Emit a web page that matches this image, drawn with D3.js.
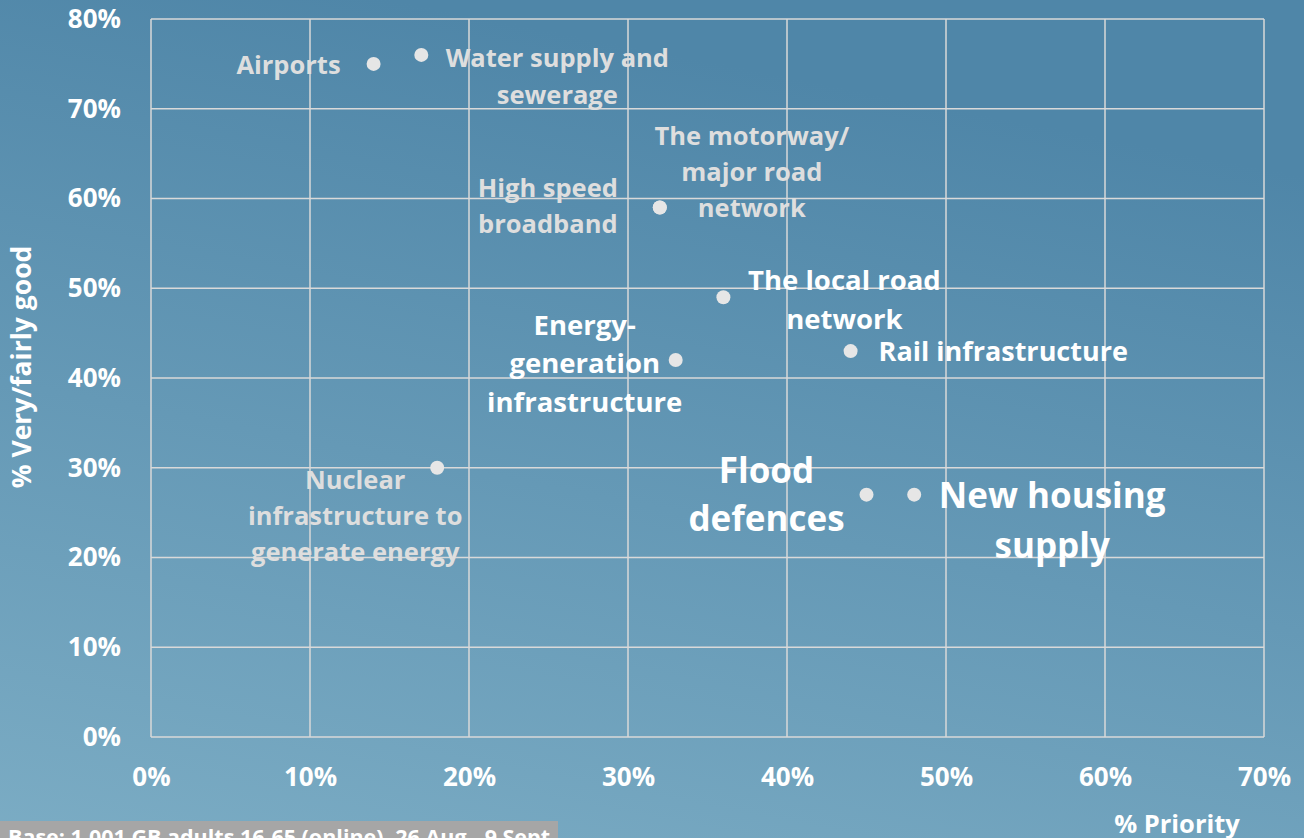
<!DOCTYPE html>
<html>
<head>
<meta charset="utf-8">
<script src="https://cdn.jsdelivr.net/npm/d3@7"></script>
<style>
  html, body { margin: 0; padding: 0; overflow: hidden; }
  svg { display: block; font-family: "Open Sans", "Noto Sans", sans-serif; font-weight: 700; }
</style>
</head>
<body>
<svg id="chart"></svg>
<script>
const width = 1304, height = 838

// data
const names = ['Airports', 'Water supply and sewerage', 'The motorway/ major road network', 'High speed broadband',
  'The local road network', 'Energy-generation infrastructure', 'Rail infrastructure',
  'Nuclear infrastructure to generate energy', 'Flood defences', 'New housing supply']
const priority = [14, 17, 32, 32, 36, 33, 44, 18, 45, 48]
const good = [75, 76, 59, 59, 49, 42, 43, 30, 27, 27]
const labelLines = [['Airports'], ['Water supply and', 'sewerage'], ['The motorway/', 'major road', 'network'],
  ['High speed', 'broadband'], ['The local road', 'network'], ['Energy-', 'generation', 'infrastructure'],
  ['Rail infrastructure'], ['Nuclear', 'infrastructure to', 'generate energy'], ['Flood', 'defences'], ['New housing', 'supply']]
const xTicks = [0, 10, 20, 30, 40, 50, 60, 70]
const yTicks = [0, 10, 20, 30, 40, 50, 60, 70, 80]

// label placement, offset from the point in px
const lab = [
  { dx: -33, dy: 1, anchor: 'end', size: 25.5, fill: '#dedede', lh: 36 },
  { dx: 136, dy: 3, anchor: 'middle', size: 25.5, fill: '#dedede', lh: 37 },
  { dx: 92, dy: -71, anchor: 'middle', size: 25.5, fill: '#dedede', lh: 36 },
  { dx: -112, dy: -19, anchor: 'middle', size: 25.5, fill: '#dedede', lh: 36 },
  { dx: 121, dy: -17, anchor: 'middle', size: 27.5, fill: '#ffffff', lh: 39 },
  { dx: -91, dy: -35, anchor: 'middle', size: 27.5, fill: '#ffffff', lh: 38.5 },
  { dx: 28, dy: 0, anchor: 'start', size: 27, fill: '#ffffff', lh: 36 },
  { dx: -82, dy: 12, anchor: 'middle', size: 25.5, fill: '#dedede', lh: 36 },
  { dx: -100, dy: -24, anchor: 'middle', size: 35, fill: '#ffffff', lh: 48 },
  { dx: 138, dy: 1, anchor: 'middle', size: 35, fill: '#ffffff', lh: 50 }
]

const margin = { left: 151, top: 19, right: 1264, bottom: 737 }

const svg = d3.select('#chart').attr('width', width).attr('height', height)

const defs = svg.append('defs')
const grad = defs.append('linearGradient').attr('id', 'bg')
  .attr('x1', '0.3').attr('y1', '0').attr('x2', '0').attr('y2', '1')
grad.append('stop').attr('offset', '0%').attr('stop-color', '#4f86a8')
grad.append('stop').attr('offset', '100%').attr('stop-color', '#7bacc4')
svg.append('rect').attr('width', width).attr('height', height).attr('fill', 'url(#bg)')

const x = d3.scaleLinear().domain([0, 70]).range([margin.left, margin.right])
const y = d3.scaleLinear().domain([0, 80]).range([margin.bottom, margin.top])

// grid
svg.append('g').selectAll('line').data(xTicks).enter().append('line')
  .attr('x1', d => x(d)).attr('x2', d => x(d))
  .attr('y1', y(0)).attr('y2', y(80))
  .attr('stroke', '#d9d9d9').attr('stroke-width', 1.5)
svg.append('g').selectAll('line').data(yTicks).enter().append('line')
  .attr('y1', d => y(d)).attr('y2', d => y(d))
  .attr('x1', x(0)).attr('x2', x(70))
  .attr('stroke', '#d9d9d9').attr('stroke-width', 1.5)

// axes
const xAxis = svg.append('g').attr('transform', `translate(0,${y(0) + 41})`)
  .call(d3.axisBottom(x).tickValues(xTicks).tickFormat(d => d + '%').tickSize(0))
const yAxis = svg.append('g').attr('transform', `translate(${x(0) - 30},0)`)
  .call(d3.axisLeft(y).tickValues(yTicks).tickFormat(d => d + '%').tickSize(0))
;[xAxis, yAxis].forEach(a => {
  a.select('.domain').remove()
  a.selectAll('text').attr('fill', '#ffffff').attr('font-size', 26)
    .attr('font-family', '"Open Sans", sans-serif').attr('font-weight', 700)
})
xAxis.selectAll('text').attr('dy', '0.32em').attr('y', 0)
yAxis.selectAll('text').attr('x', 0)

svg.append('text').text('% Very/fairly good')
  .attr('transform', 'translate(22,367) rotate(-90)')
  .attr('text-anchor', 'middle').attr('dy', '0.35em')
  .attr('fill', '#ffffff').attr('font-size', 26.5)

svg.append('text').text('% Priority')
  .attr('x', 1177).attr('y', 824).attr('dy', '0.35em')
  .attr('text-anchor', 'middle')
  .attr('fill', '#ffffff').attr('font-size', 25.5)

// points
svg.append('g').selectAll('circle').data(names).enter().append('circle')
  .attr('cx', (d, i) => x(priority[i]))
  .attr('cy', (d, i) => y(good[i]))
  .attr('r', 7)
  .attr('fill', '#e6e6e6')

// labels
const labels = svg.append('g').selectAll('text').data(names).enter().append('text')
  .attr('text-anchor', (d, i) => lab[i].anchor)
  .attr('fill', (d, i) => lab[i].fill)
  .attr('font-size', (d, i) => lab[i].size)
labels.each(function (d, i) {
  const l = lab[i], lines = labelLines[i]
  const cx = x(priority[i]) + l.dx
  const cy = y(good[i]) + l.dy
  d3.select(this).selectAll('tspan').data(lines).enter().append('tspan')
    .attr('x', cx)
    .attr('y', (t, j) => cy + j * l.lh)
    .attr('dy', '0.35em')
    .text(t => t)
})

// footnote
svg.append('rect').attr('x', 0).attr('y', 821).attr('width', 558).attr('height', 20).attr('fill', '#a6a6a6')
svg.append('text').text('Base: 1,001 GB adults 16-65 (online), 26 Aug - 9 Sept')
  .attr('x', 8).attr('y', 845)
  .attr('fill', '#ffffff').attr('font-size', 21.5)
</script>
</body>
</html>
